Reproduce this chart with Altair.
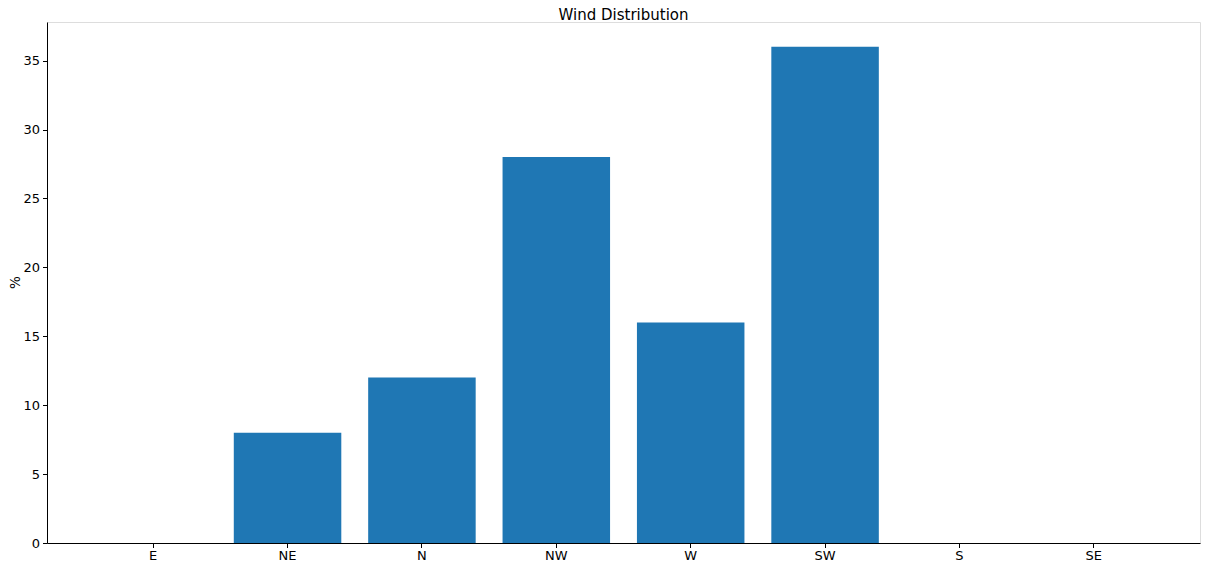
import altair as alt
import pandas as pd

directions = ["E", "NE", "N", "NW", "W", "SW", "S", "SE"]
percent = [0, 8, 12, 28, 16, 36, 0, 0]
y_ticks = [0, 5, 10, 15, 20, 25, 30, 35]

df = pd.DataFrame({"direction": directions, "percent": percent})

FONT = "DejaVu Sans"

chart = alt.Chart(df).mark_bar(color="#1f77b4").encode(
    x=alt.X(
        "direction:N",
        sort=directions,
        scale=alt.Scale(paddingInner=0.2, paddingOuter=0.39),
        axis=alt.Axis(
            title=None,
            labelAngle=0,
            labelFont=FONT,
            labelFontSize=13,
            labelColor="black",
            labelPadding=2,
            tickSize=4.5,
            tickColor="black",
            domainColor="black",
            grid=False,
        ),
    ),
    y=alt.Y(
        "percent:Q",
        scale=alt.Scale(domain=[0, 37.8], nice=False, zero=True),
        axis=alt.Axis(
            title="%",
            values=y_ticks,
            titleFont=FONT,
            titleFontSize=13.5,
            titleFontWeight="normal",
            titleColor="black",
            titleAngle=-90,
            titleX=-32,
            titleY=260,
            titleAlign="center",
            titleBaseline="middle",
            labelFont=FONT,
            labelFontSize=13,
            labelColor="black",
            labelPadding=3,
            tickSize=4.5,
            tickColor="black",
            domainColor="black",
            grid=False,
        ),
    ),
).properties(
    width=1153,
    height=521,
    title=alt.TitleParams(
        "Wind Distribution",
        font=FONT,
        fontSize=15,
        fontWeight="normal",
        color="black",
        anchor="middle",
        offset=2,
        dy=3,
    ),
    autosize=alt.AutoSizeParams(type="none"),
    padding={"left": 39, "top": 14, "right": 1, "bottom": 20},
).configure_view(
    stroke="black",
    strokeWidth=1.1,
).configure(background="white")

chart.save("out.html", embed_options={"renderer": "svg", "actions": False})
